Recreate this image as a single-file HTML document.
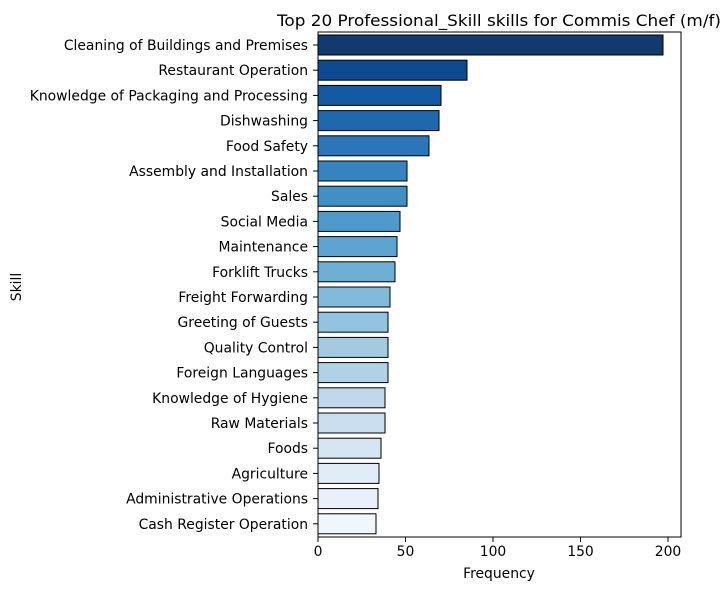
<!DOCTYPE html>
<html><head><meta charset="utf-8"><style>
body{margin:0;background:#fff;}
svg text{font-family:"DejaVu Sans","Liberation Sans",sans-serif;fill:#000;}
</style></head><body>
<svg width="728" height="590" xmlns="http://www.w3.org/2000/svg">
<rect width="728" height="590" fill="#fff"/>
<text x="499" y="26" font-size="16.2" text-anchor="middle" textLength="444" lengthAdjust="spacingAndGlyphs">Top 20 Professional_Skill skills for Commis Chef (m/f)</text>
<g stroke="#000" stroke-width="1">
<rect x="318" y="35" width="345" height="20" fill="#133a6e"/>
<rect x="318" y="60.2" width="149" height="20" fill="#0d4a8f"/>
<rect x="318" y="85.4" width="123" height="20" fill="#135aa3"/>
<rect x="318" y="110.6" width="121" height="20" fill="#1e68ad"/>
<rect x="318" y="135.8" width="111" height="20" fill="#2a76b8"/>
<rect x="318" y="161" width="89" height="20" fill="#3584c0"/>
<rect x="318" y="186.2" width="89" height="20" fill="#4090c5"/>
<rect x="318" y="211.4" width="82" height="20" fill="#4e9acb"/>
<rect x="318" y="236.6" width="79" height="20" fill="#5da5d0"/>
<rect x="318" y="261.8" width="77" height="20" fill="#6eafd6"/>
<rect x="318" y="287" width="72" height="20" fill="#81badb"/>
<rect x="318" y="312.2" width="70" height="20" fill="#93c4df"/>
<rect x="318" y="337.4" width="70" height="20" fill="#a2cbe2"/>
<rect x="318" y="362.6" width="70" height="20" fill="#b0d2e7"/>
<rect x="318" y="387.8" width="67" height="20" fill="#bfd8ec"/>
<rect x="318" y="413" width="67" height="20" fill="#cadef0"/>
<rect x="318" y="438.2" width="63" height="20" fill="#d5e5f4"/>
<rect x="318" y="463.4" width="61" height="20" fill="#e0ecf8"/>
<rect x="318" y="488.6" width="60" height="20" fill="#e8f1fa"/>
<rect x="318" y="513.8" width="58" height="20" fill="#f0f6fd"/>
</g>
<rect x="318" y="32" width="363" height="505" fill="none" stroke="#000" stroke-width="1"/>
<g font-size="13.9" text-anchor="end">
<text x="308" y="50">Cleaning of Buildings and Premises</text>
<text x="308" y="75.2">Restaurant Operation</text>
<text x="308" y="100.4">Knowledge of Packaging and Processing</text>
<text x="308" y="125.6">Dishwashing</text>
<text x="308" y="150.8">Food Safety</text>
<text x="308" y="176">Assembly and Installation</text>
<text x="308" y="201.2">Sales</text>
<text x="308" y="226.4">Social Media</text>
<text x="308" y="251.6">Maintenance</text>
<text x="308" y="276.8">Forklift Trucks</text>
<text x="308" y="302">Freight Forwarding</text>
<text x="308" y="327.2">Greeting of Guests</text>
<text x="308" y="352.4">Quality Control</text>
<text x="308" y="377.6">Foreign Languages</text>
<text x="308" y="402.8">Knowledge of Hygiene</text>
<text x="308" y="428">Raw Materials</text>
<text x="308" y="453.2">Foods</text>
<text x="308" y="478.4">Agriculture</text>
<text x="308" y="503.6">Administrative Operations</text>
<text x="308" y="528.8">Cash Register Operation</text>
</g>
<g stroke="#000">
<line x1="313" x2="318" y1="45" y2="45"/><line x1="313" x2="318" y1="70.2" y2="70.2"/><line x1="313" x2="318" y1="95.4" y2="95.4"/><line x1="313" x2="318" y1="120.6" y2="120.6"/><line x1="313" x2="318" y1="145.8" y2="145.8"/><line x1="313" x2="318" y1="171" y2="171"/><line x1="313" x2="318" y1="196.2" y2="196.2"/><line x1="313" x2="318" y1="221.4" y2="221.4"/><line x1="313" x2="318" y1="246.6" y2="246.6"/><line x1="313" x2="318" y1="271.8" y2="271.8"/><line x1="313" x2="318" y1="297" y2="297"/><line x1="313" x2="318" y1="322.2" y2="322.2"/><line x1="313" x2="318" y1="347.4" y2="347.4"/><line x1="313" x2="318" y1="372.6" y2="372.6"/><line x1="313" x2="318" y1="397.8" y2="397.8"/><line x1="313" x2="318" y1="423" y2="423"/><line x1="313" x2="318" y1="448.2" y2="448.2"/><line x1="313" x2="318" y1="473.4" y2="473.4"/><line x1="313" x2="318" y1="498.6" y2="498.6"/><line x1="313" x2="318" y1="523.8" y2="523.8"/>
<line x1="318" x2="318" y1="537" y2="542"/><line x1="405.5" x2="405.5" y1="537" y2="542"/><line x1="493" x2="493" y1="537" y2="542"/><line x1="580.5" x2="580.5" y1="537" y2="542"/><line x1="668" x2="668" y1="537" y2="542"/>
</g>
<g font-size="13.9" text-anchor="middle">
<text x="318" y="556">0</text><text x="405.5" y="556">50</text><text x="493" y="556">100</text><text x="580.5" y="556">150</text><text x="668" y="556">200</text>
<text x="499" y="578">Frequency</text>
<text x="21" y="287" transform="rotate(-90 21 287)">Skill</text>
</g>
</svg>
</body></html>
